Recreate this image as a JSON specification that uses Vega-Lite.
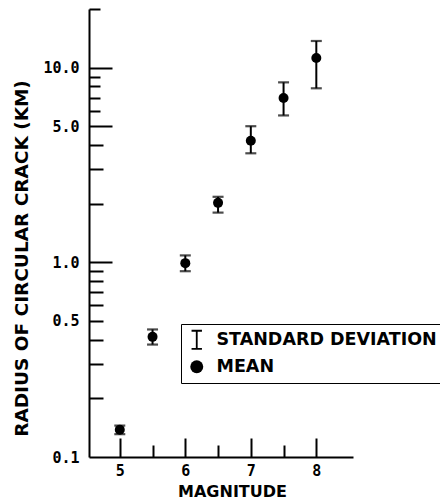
{
  "$schema": "https://vega.github.io/schema/vega-lite/v6.json",
  "width": 264,
  "height": 448,
  "autosize": {"type": "none"},
  "padding": {"left": 89, "top": 9, "right": 87, "bottom": 46},
  "background": "white",
  "config": {
    "view": {"stroke": null},
    "axis": {
      "grid": false,
      "domainColor": "black",
      "domainWidth": 2,
      "tickColor": "black",
      "tickWidth": 2,
      "labelColor": "black",
      "titleColor": "black",
      "labelFont": "DejaVu Sans Mono",
      "labelFontWeight": "bold",
      "labelFontSize": 15,
      "titleFont": "DejaVu Sans",
      "titleFontWeight": "bold"
    }
  },
  "data": {
    "values": [
      {"magnitude": 5.0, "mean": 0.138, "lower": 0.131, "upper": 0.145},
      {"magnitude": 5.5, "mean": 0.414, "lower": 0.378, "upper": 0.452},
      {"magnitude": 6.0, "mean": 0.99, "lower": 0.9, "upper": 1.085},
      {"magnitude": 6.5, "mean": 2.02, "lower": 1.8, "upper": 2.17},
      {"magnitude": 7.0, "mean": 4.21, "lower": 3.63, "upper": 5.0},
      {"magnitude": 7.5, "mean": 6.98, "lower": 5.68, "upper": 8.4},
      {"magnitude": 8.0, "mean": 11.2, "lower": 7.83, "upper": 13.7}
    ]
  },
  "layer": [
    {
      "mark": {
        "type": "errorbar",
        "ticks": {"size": 11, "thickness": 2.2, "color": "black"},
        "rule": {"strokeWidth": 2, "color": "black"}
      },
      "encoding": {
        "x": {
          "field": "magnitude",
          "type": "quantitative",
          "scale": {"domain": [4.53, 8.56], "nice": false, "zero": false},
          "axis": {
            "orient": "bottom",
            "values": [5, 6, 7, 8],
            "format": "d",
            "ticks": false,
            "labelPadding": 6,
            "title": "MAGNITUDE",
            "titleFontSize": 16,
            "titlePadding": 5,
            "titleX": 143
          }
        },
        "y": {
          "field": "lower",
          "type": "quantitative",
          "scale": {"type": "log", "domain": [0.1, 20], "nice": false},
          "axis": {
            "orient": "left",
            "values": [0.1, 0.5, 1, 5, 10],
            "format": ".1f",
            "ticks": false,
            "labelPadding": 10,
            "title": "RADIUS OF CIRCULAR CRACK (KM)",
            "titleFontSize": 18.5,
            "titlePadding": 11,
            "titleY": 249
          }
        },
        "y2": {"field": "upper"}
      }
    },
    {
      "mark": {"type": "point", "filled": true, "color": "black", "opacity": 1, "size": 100},
      "encoding": {
        "x": {
          "field": "magnitude",
          "type": "quantitative",
          "axis": {
            "orient": "top",
            "offset": -448,
            "values": [5, 5.5, 6, 6.5, 7, 7.5, 8],
            "labels": false,
            "domain": false,
            "title": null,
            "tickSize": {"condition": {"test": "datum.value % 1 === 0", "value": 19}, "value": 12}
          }
        },
        "y": {
          "field": "mean",
          "type": "quantitative",
          "axis": {
            "orient": "right",
            "offset": -264,
            "values": [0.2, 0.3, 0.4, 0.5, 0.6, 0.7, 0.8, 0.9, 1, 2, 3, 4, 5, 6, 7, 8, 9, 10, 20],
            "labels": false,
            "domain": false,
            "title": null,
            "tickSize": {
              "condition": [
                {"test": "datum.value == 1 || datum.value == 5 || datum.value == 10", "value": 23},
                {"test": "datum.value > 5.5", "value": 11}
              ],
              "value": 14
            }
          }
        },
        "shape": {
          "datum": "MEAN",
          "type": "nominal",
          "scale": {
            "domain": ["STANDARD DEVIATION", "MEAN"],
            "range": ["M-0.8,-1.55H0.8V-1.25H0.14V1.25H0.8V1.55H-0.8V1.25H-0.14V-1.25H-0.8Z", "circle"]
          },
          "legend": {
            "orient": "none",
            "legendX": 92,
            "legendY": 315,
            "title": null,
            "strokeColor": "black",
            "fillColor": "white",
            "padding": 7,
            "rowPadding": 7,
            "symbolSize": 169,
            "symbolFillColor": "black",
            "symbolStrokeColor": "black",
            "symbolStrokeWidth": 0,
            "symbolOpacity": 1,
            "labelFont": "DejaVu Sans",
            "labelFontSize": 17.5,
            "labelFontWeight": "bold",
            "labelColor": "black",
            "labelOffset": 11,
            "labelLimit": 400,
            "encode": {
              "legend": {"update": {"strokeWidth": {"value": 1.5}}},
              "labels": {"update": {"dy": {"value": 4}}}
            }
          }
        }
      }
    }
  ],
  "resolve": {"axis": {"x": "independent", "y": "independent"}}
}
